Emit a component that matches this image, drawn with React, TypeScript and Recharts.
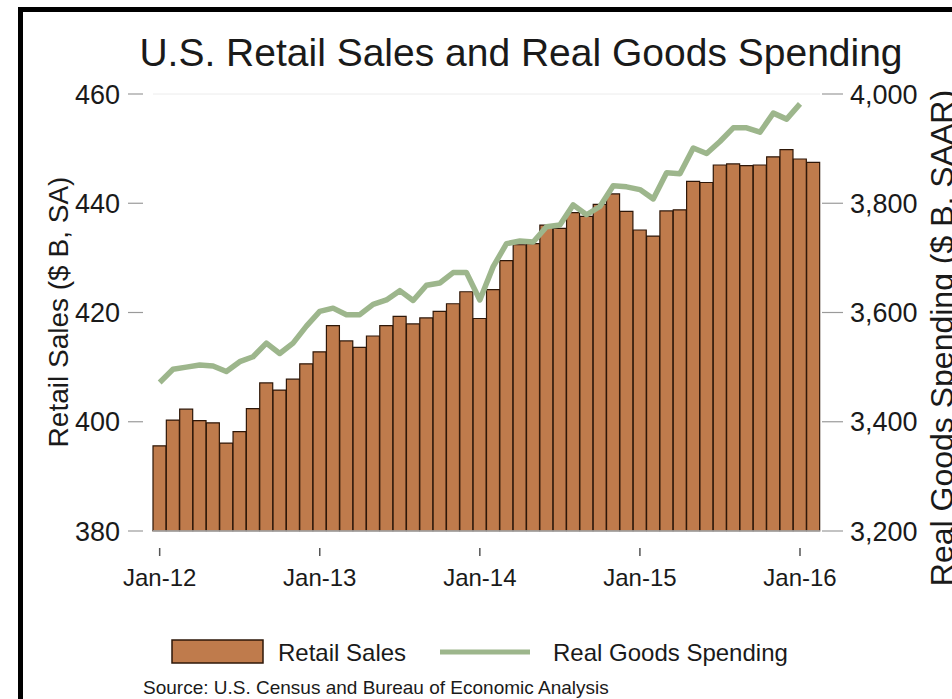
import { Bar, ComposedChart, Line, ReferenceLine, XAxis, YAxis } from "recharts";

const FONT = '"Liberation Sans", Arial, Helvetica, sans-serif';

const monthNames = ["Jan", "Feb", "Mar", "Apr", "May", "Jun", "Jul", "Aug", "Sep", "Oct", "Nov", "Dec"];
const years = ["12", "13", "14", "15", "16"];

// Jan-12 .. Feb-16
const months: string[] = years
  .flatMap((yr) => monthNames.map((m) => `${m}-${yr}`))
  .slice(0, 50);

// Retail sales, $ B, SA (left axis)
const retailSales = [
  395.6, 400.3, 402.3, 400.2, 399.8, 396.1, 398.2, 402.4, 407.1, 405.8, 407.8, 410.6,
  412.8, 417.6, 414.8, 413.6, 415.7, 417.6, 419.3, 417.9, 419.0, 420.2, 421.6, 423.8,
  418.9, 424.2, 429.5, 432.4, 432.6, 436.0, 435.4, 438.3, 437.6, 439.8, 441.7, 438.5,
  435.1, 434.0, 438.6, 438.8, 444.0, 443.8, 447.0, 447.2, 446.9, 447.0, 448.5, 449.8,
  448.1, 447.5,
];

// Real goods spending, $ B, SAAR (right axis) - no Feb-16 value
const realGoods: (number | null)[] = [
  3472, 3496, 3500, 3504, 3502, 3492, 3510, 3519, 3544, 3525, 3544, 3575,
  3602, 3608, 3596, 3596, 3615, 3623, 3640, 3622, 3650, 3654, 3673, 3673,
  3623, 3684, 3726, 3731, 3729, 3757, 3760, 3797, 3779, 3794, 3832, 3830,
  3825, 3808, 3856, 3854, 3901, 3891, 3913, 3938, 3938, 3930, 3965, 3954,
  3982, null,
];

const leftTicks = [380, 400, 420, 440, 460];
const rightTicks = [3200, 3400, 3600, 3800, 4000];

const BAR_FILL = "#bf7b4c";
const BAR_STROKE = "#2e1708";
const LINE_COLOR = "#9db68c";
const TICK_COLOR = "#9a9a9a";
const TEXT_COLOR = "#1a1a1a";

const data = months.map((month, i) => ({
  month,
  retail: retailSales[i],
  goods: realGoods[i],
}));

function LeftTick({ x, y, payload }: any) {
  return (
    <g>
      <line x1={x - 25} x2={x - 10} y1={y} y2={y} stroke={TICK_COLOR} strokeWidth={1.2} />
      <text x={x - 33} y={y} dy="0.36em" textAnchor="end" fontSize={27} fontFamily={FONT} fill={TEXT_COLOR}>
        {payload.value}
      </text>
    </g>
  );
}

function RightTick({ x, y, payload }: any) {
  return (
    <g>
      <line x1={x + 2} x2={x + 23} y1={y} y2={y} stroke={TICK_COLOR} strokeWidth={1.2} />
      <text x={x + 30} y={y} dy="0.36em" textAnchor="start" fontSize={27} fontFamily={FONT} fill={TEXT_COLOR}>
        {Number(payload.value).toLocaleString("en-US")}
      </text>
    </g>
  );
}

function BottomTick({ x, y, payload }: any) {
  return (
    <g>
      <line x1={x} x2={x} y1={y + 17} y2={y + 25} stroke="#555" strokeWidth={1.5} />
      <text x={x} y={y + 55} textAnchor="middle" fontSize={24} fontFamily={FONT} fill={TEXT_COLOR}>
        {payload.value}
      </text>
    </g>
  );
}

export default function App() {
  return (
    <div
      style={{
        position: "fixed",
        left: 0,
        top: 0,
        width: 952,
        height: 699,
        overflow: "hidden",
        background: "#fff",
        fontFamily: FONT,
      }}
    >
      {/* black frame, right and bottom edges fall outside the picture */}
      <div
        style={{
          position: "absolute",
          left: 18,
          top: 7,
          width: 1100,
          height: 900,
          border: "5px solid #000",
        }}
      />

      <div style={{ position: "absolute", left: 0, top: 0 }}>
        <ComposedChart
          width={952}
          height={699}
          data={data}
          margin={{ top: 94, right: 0, bottom: 108, left: 0 }}
          barCategoryGap={0}
          barGap={0}
        >
          <XAxis
            dataKey="month"
            interval={11}
            height={60}
            tickSize={0}
            tickMargin={0}
            tickLine={false}
            axisLine={{ stroke: "#b5b5b5", strokeWidth: 1.5 }}
            tick={<BottomTick />}
          />
          <YAxis
            yAxisId="left"
            orientation="left"
            width={153}
            domain={[380, 460]}
            ticks={leftTicks}
            tickSize={0}
            tickMargin={0}
            axisLine={false}
            tickLine={false}
            tick={<LeftTick />}
          />
          <YAxis
            yAxisId="right"
            orientation="right"
            width={132}
            domain={[3200, 4000]}
            ticks={rightTicks}
            tickSize={0}
            tickMargin={0}
            axisLine={false}
            tickLine={false}
            tick={<RightTick />}
          />
          <ReferenceLine yAxisId="left" y={460} stroke="#ececec" strokeWidth={1} />
          <Bar
            yAxisId="left"
            dataKey="retail"
            fill={BAR_FILL}
            stroke={BAR_STROKE}
            strokeWidth={1.2}
            isAnimationActive={false}
          />
          <Line
            yAxisId="right"
            type="linear"
            dataKey="goods"
            stroke={LINE_COLOR}
            strokeWidth={5.5}
            strokeLinejoin="round"
            dot={false}
            activeDot={false}
            isAnimationActive={false}
          />
        </ComposedChart>
      </div>

      {/* titles, legend and source */}
      <svg
        width={952}
        height={699}
        style={{ position: "absolute", left: 0, top: 0, pointerEvents: "none" }}
        fontFamily={FONT}
      >
        <text x={521} y={66} textAnchor="middle" fontSize={39} fill={TEXT_COLOR}>
          U.S. Retail Sales and Real Goods Spending
        </text>
        <text
          x={68}
          y={312}
          transform="rotate(-90 68 312)"
          textAnchor="middle"
          fontSize={28}
          fill={TEXT_COLOR}
        >
          Retail Sales ($ B, SA)
        </text>
        <text
          x={953}
          y={338}
          transform="rotate(-90 953 338)"
          textAnchor="middle"
          fontSize={32}
          fill={TEXT_COLOR}
        >
          Real Goods Spending ($ B, SAAR)
        </text>

        <rect x={172} y={640} width={91} height={23} fill={BAR_FILL} stroke={BAR_STROKE} strokeWidth={1.5} />
        <text x={278} y={661} fontSize={24} fill={TEXT_COLOR}>
          Retail Sales
        </text>
        <line x1={440} x2={530} y1={652} y2={652} stroke={LINE_COLOR} strokeWidth={5} />
        <text x={553} y={661} fontSize={24} fill={TEXT_COLOR}>
          Real Goods Spending
        </text>

        <text x={143} y={694} fontSize={19} fill={TEXT_COLOR}>
          Source: U.S. Census and Bureau of Economic Analysis
        </text>
      </svg>
    </div>
  );
}
